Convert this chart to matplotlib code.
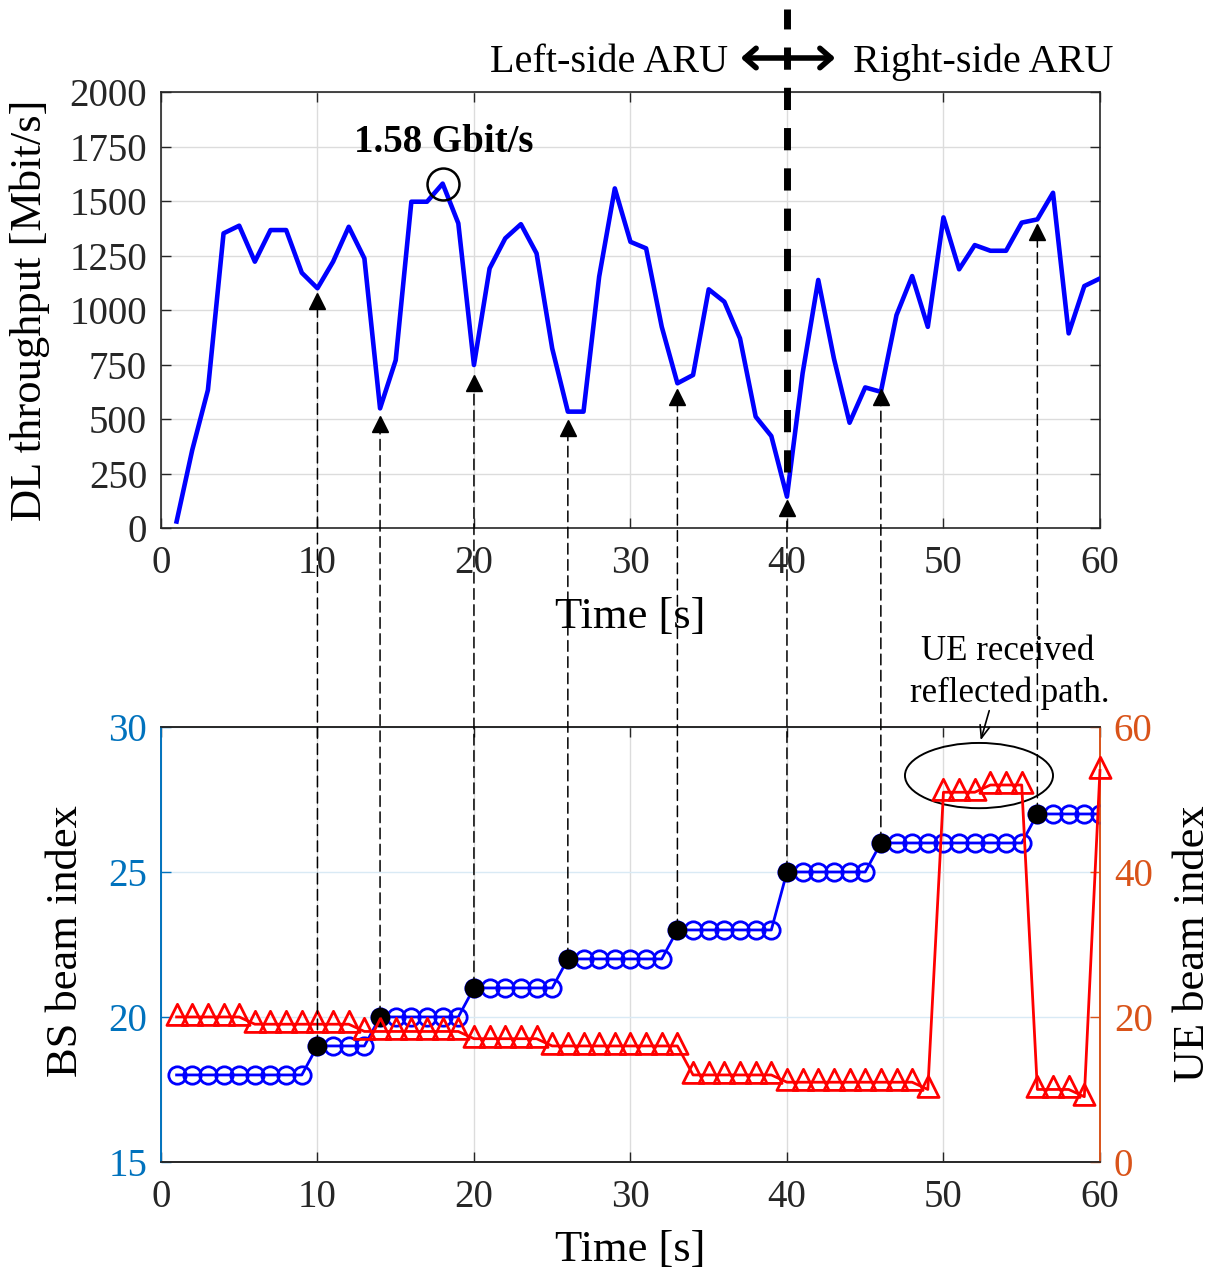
import matplotlib
matplotlib.use("Agg")
import matplotlib.pyplot as plt
import numpy as np
from matplotlib.patches import ConnectionPatch, Ellipse, FancyArrowPatch
from matplotlib.path import Path

plt.rcParams['font.family'] = ['Liberation Serif', 'DejaVu Serif']

# --- data -------------------------------------------------------------
time_s = np.arange(1, 61)
throughput = [30, 358, 633, 1352, 1387, 1222, 1367, 1367, 1171, 1100,
              1222, 1382, 1237, 549, 770, 1497, 1497, 1580, 1398, 748,
              1191, 1329, 1394, 1260, 824, 534, 534, 1153, 1558, 1313,
              1283, 923, 664, 702, 1095, 1038, 870, 511, 422, 144,
              710, 1138, 778, 483, 645, 625, 977, 1156, 923, 1425,
              1187, 1298, 1272, 1272, 1401, 1416, 1538, 893, 1110, 1145]
bs_beam = [18] * 9 + [19] * 4 + [20] * 6 + [21] * 6 + [22] * 7 + [23] * 7 + \
          [25] * 6 + [26] * 10 + [27] * 5
ue_beam = [20] * 5 + [19] * 7 + [18] * 7 + [17] * 5 + [16] * 9 + [12] * 6 + \
          [11] * 9 + [10] + [51] * 3 + [52] * 3 + [10] * 3 + [9] + [54]

# BS beam switching instants and where their arrows point on the upper panel
switch_t = [10, 14, 20, 26, 33, 40, 46, 56]
arrow_y = [1040, 478, 667, 461, 599, 90, 599, 1359]

peak_t, peak_val = 18, 1580
aru_switch_t = 40

DARK = '#262626'
BLUE_AX = '#0072BD'
ORANGE_AX = '#D95319'
GRID = '#dcdcdc'

fig = plt.figure(figsize=(12.23, 12.77), dpi=100)
ax1 = fig.add_axes([0.1316, 0.5865, 0.7678, 0.3414])
ax2 = fig.add_axes([0.1316, 0.0901, 0.7678, 0.3406])
ax2r = ax2.twinx()

# --- upper panel: throughput -------------------------------------------
ax1.plot(time_s, throughput, color='#0000ff', lw=3.3, zorder=3)
ax1.set_xlim(0, 60)
ax1.set_ylim(0, 2000)
ax1.set_xticks(np.arange(0, 61, 10))
ax1.set_yticks(np.arange(0, 2001, 250))
ax1.grid(True, color=GRID, lw=1)
ax1.set_axisbelow(True)
ax1.tick_params(direction='in', length=7, width=1, top=True, right=True,
                labelsize=28, colors=DARK, labelcolor=DARK)
ax1.tick_params(axis='y', pad=10)
ax1.tick_params(axis='x', pad=12)
for s in ax1.spines.values():
    s.set_color(DARK)
    s.set_linewidth(1.2)
ax1.set_ylabel('DL throughput [Mbit/s]', fontsize=32)
ax1.yaxis.label.set_va('center')
ax1.yaxis.set_label_coords(-0.1395, 0.5)
ax1.set_xlabel('Time [s]', fontsize=32)
ax1.xaxis.label.set_va('center')
ax1.xaxis.set_label_coords(0.4995, -0.204)

ax1.plot(peak_t, peak_val, 'o', mfc='none', mec='k', ms=23, mew=1.8, zorder=4)
ax1.text(18.1, 1725, '1.58 Gbit/s', fontsize=28, fontweight='bold',
         ha='center', va='baseline')

ax1.plot(switch_t, arrow_y, '^', color='k', ms=12, zorder=5, clip_on=False)

ax1.plot([aru_switch_t, aru_switch_t], [257, 2380], color='k', lw=5,
         ls=(0, (3.2, 2.6)), zorder=6, clip_on=False)

fig.text(728 / 1223, 1 - 72 / 1277, 'Left-side ARU', fontsize=29,
         ha='right', va='baseline')
fig.text(853 / 1223, 1 - 72 / 1277, 'Right-side ARU', fontsize=29,
         ha='left', va='baseline')
fig.add_artist(FancyArrowPatch(
    (738 / 1223, 1 - 58 / 1277), (838 / 1223, 1 - 58 / 1277),
    transform=fig.transFigure, arrowstyle='<->,head_length=8,head_width=7',
    lw=4, color='k'))

# --- lower panel: beam indices ------------------------------------------
tri = Path([(-0.8, -0.6), (0.8, -0.6), (0.0, 1.0), (-0.8, -0.6)],
           [Path.MOVETO, Path.LINETO, Path.LINETO, Path.CLOSEPOLY])

ax2.plot(time_s, bs_beam, '-o', color='#0000ff', lw=2, ms=12.5,
         mfc='none', mew=2, zorder=3)
bs_at_switch = [bs_beam[t - 1] for t in switch_t]
ax2.plot(switch_t, bs_at_switch, 'o', color='k', ms=13, zorder=4)
ax2.set_xlim(0, 60)
ax2.set_ylim(15, 30)
ax2.set_xticks(np.arange(0, 61, 10))
ax2.set_yticks([15, 20, 25, 30])
ax2.grid(True, axis='x', color=GRID, lw=1)
ax2.grid(True, axis='y', color='#d9eaf5', lw=1)
ax2.set_axisbelow(True)
ax2.tick_params(direction='in', length=7, width=1, top=True, labelsize=28)
ax2.tick_params(axis='x', colors=DARK, labelcolor=DARK, pad=12)
ax2.tick_params(axis='y', colors=BLUE_AX, labelcolor=BLUE_AX, pad=10)
ax2.set_xlabel('Time [s]', fontsize=32)
ax2.xaxis.label.set_va('center')
ax2.xaxis.set_label_coords(0.4995, -0.202)
ax2.set_ylabel('BS beam index', fontsize=32)
ax2.yaxis.label.set_va('center')
ax2.yaxis.set_label_coords(-0.101, 0.508)

ax2r.plot(time_s, ue_beam, '-', color='#ff0000', lw=2, marker=tri, ms=19,
          mfc='none', mew=2, zorder=3, clip_on=False)
ax2r.set_ylim(0, 60)
ax2r.set_yticks([0, 20, 40, 60])
ax2r.tick_params(direction='in', length=7, width=1, labelsize=28,
                 colors=ORANGE_AX, labelcolor=ORANGE_AX, pad=10)
ax2r.set_ylabel('UE beam index', fontsize=32, rotation=90)
ax2r.yaxis.label.set_va('center')
ax2r.yaxis.set_label_coords(1.099, 0.502)

for a in (ax2, ax2r):
    a.spines['top'].set_color(DARK)
    a.spines['bottom'].set_color(DARK)
    a.spines['left'].set_color(BLUE_AX)
    a.spines['right'].set_color(ORANGE_AX)
    for s in a.spines.values():
        s.set_linewidth(1.2)

ax2r.add_patch(Ellipse((52.27, 53.3), 9.46, 9.0, fill=False, ec='k', lw=1.4))
ax2r.annotate('', xy=(52.33, 57.8), xycoords='data',
              xytext=(990 / 1223, 1 - 708 / 1277), textcoords='figure fraction',
              arrowprops=dict(arrowstyle='->,head_length=0.9,head_width=0.35',
                              lw=1.2, color='k'))
fig.text(1008 / 1223, 1 - 660 / 1277, 'UE received', fontsize=25,
         ha='center', va='baseline')
fig.text(1010 / 1223, 1 - 702 / 1277, 'reflected path.', fontsize=25,
         ha='center', va='baseline')

# dashed links from each BS beam switch up to the throughput dip
for t, yb, ya in zip(switch_t, bs_at_switch, arrow_y):
    con = ConnectionPatch(xyA=(t, yb), coordsA=ax2.transData,
                          xyB=(t, ya), coordsB=ax1.transData,
                          arrowstyle='-', color='k', lw=1.1,
                          linestyle=(0, (7, 3.6)))
    fig.add_artist(con)

fig.savefig('out.png', dpi=100)
